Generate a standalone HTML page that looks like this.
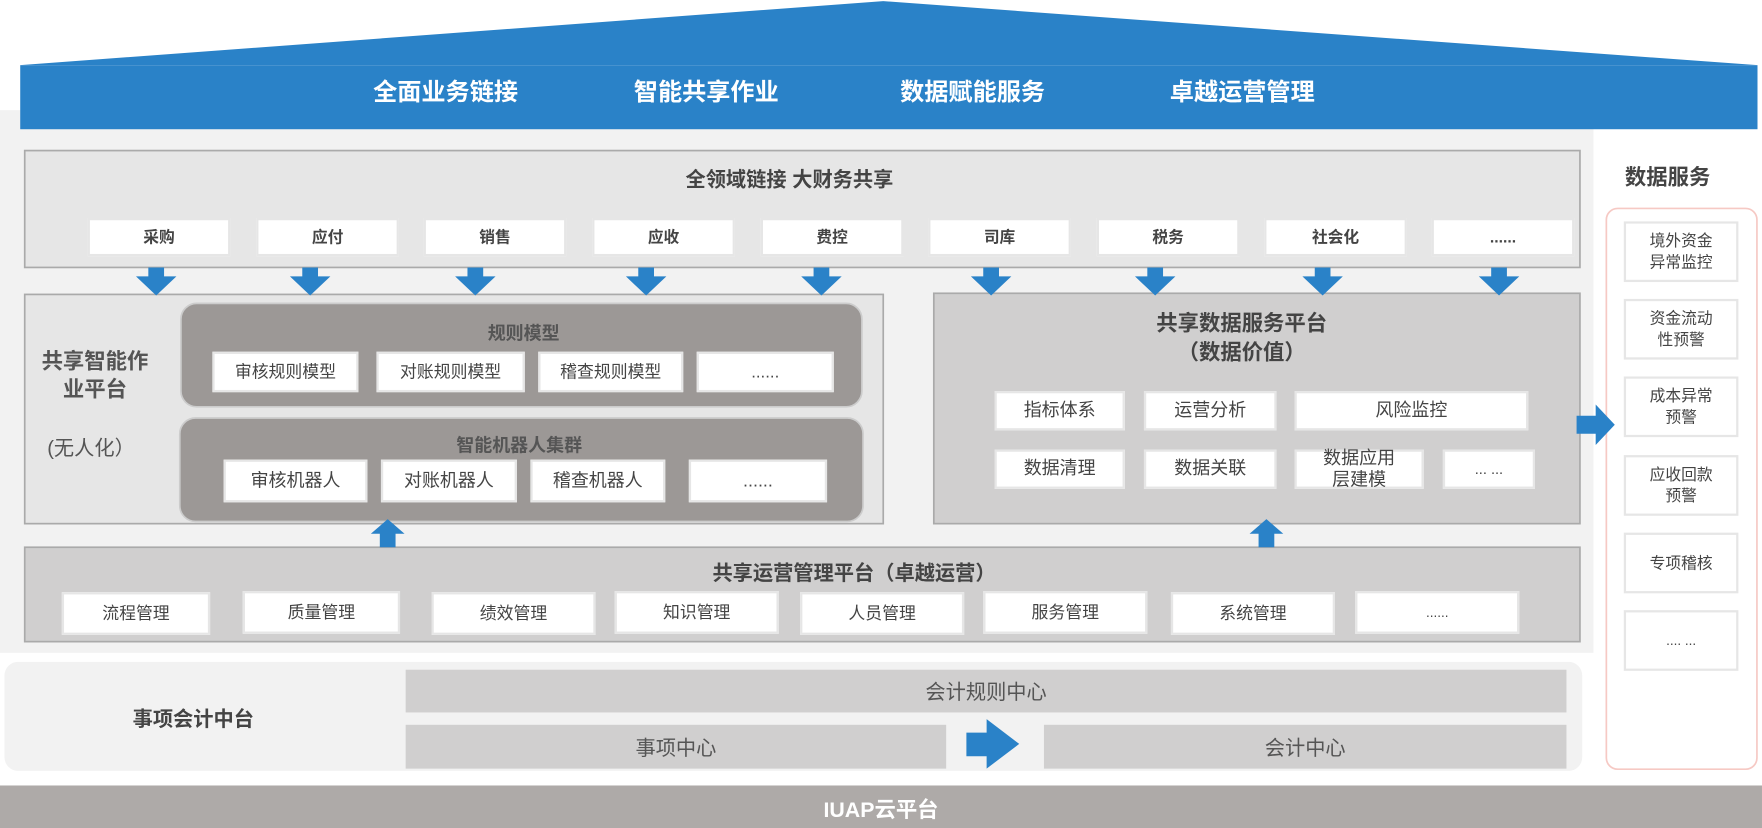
<!DOCTYPE html>
<html><head><meta charset="utf-8"><style>
html,body{margin:0;padding:0;background:#fff;width:1762px;height:828px;overflow:hidden}
#s{position:absolute;left:0;top:0;width:1568px;height:737px;transform:scale(1.12372);transform-origin:0 0;font-family:"Liberation Sans","Noto Sans CJK SC",sans-serif;color:#444}
.a{position:absolute;box-sizing:border-box}
.w{position:absolute;box-sizing:border-box;background:#fff;border:2px solid #e6e6e6;display:flex;align-items:center;justify-content:center;font-size:15px;color:#444;text-align:center;line-height:19px}
.t{position:absolute;font-weight:bold;color:#555;white-space:nowrap}
</style></head><body><div id="s">
<svg class="a" style="left:0;top:0" width="1568" height="737">
<polygon points="18,58 786,1 1564,58" fill="#2a82c8"/>
<rect x="0" y="98" width="1418" height="483" fill="#f2f2f2"/>
<rect x="18" y="58" width="1546" height="57" fill="#2a82c8"/>
<rect x="1429.5" y="185.5" width="134" height="499" rx="10" fill="#fff" stroke="#f6c9c4" stroke-width="1.5"/>
<rect x="22" y="134" width="1384" height="104" fill="#e6e6e6" stroke="#aaa" stroke-width="1.5"/>
<rect x="22" y="262" width="764" height="204" fill="#e6e6e6" stroke="#aaa" stroke-width="1.5"/>
<rect x="161" y="270" width="606" height="92" rx="14" fill="#9c9896" stroke="#ccc" stroke-width="1.5"/>
<rect x="160" y="372" width="608" height="92" rx="14" fill="#9c9896" stroke="#ccc" stroke-width="1.5"/>
<rect x="831" y="261" width="575" height="205" fill="#d0cfcf" stroke="#aaa" stroke-width="1.5"/>
<rect x="22" y="487" width="1384" height="84" fill="#d0cfcf" stroke="#aaa" stroke-width="1.5"/>
<rect x="4" y="589" width="1404" height="97" rx="12" fill="#f2f2f2"/>
<rect x="361" y="596" width="1033" height="38" fill="#d0cfcf"/>
<rect x="361" y="645" width="481" height="39" fill="#d0cfcf"/>
<rect x="929" y="645" width="465" height="39" fill="#d0cfcf"/>
<rect x="0" y="699" width="1568" height="38" fill="#aeaaa8"/>
<g fill="#2a82c8">
<polygon points="860,652 878,652 878,640 907,662 878,684 878,673 860,673"/>
<polygon points="1403,370 1420,370 1420,360 1437,378 1420,396 1420,386 1403,386"/>
<polygon points="338,487 352,487 352,475 360,475 345,462 330,475 338,475"/>
<polygon points="1120,487 1134,487 1134,475 1142,475 1127,462 1112,475 1120,475"/>
</g>
<g fill="#2a82c8">
<polygon points="132,238 146,238 146,246 157,246 139,263 121,246 132,246"/>
<polygon points="269,238 283,238 283,246 294,246 276,263 258,246 269,246"/>
<polygon points="416,238 430,238 430,246 441,246 423,263 405,246 416,246"/>
<polygon points="568,238 582,238 582,246 593,246 575,263 557,246 568,246"/>
<polygon points="724,238 738,238 738,246 749,246 731,263 713,246 724,246"/>
<polygon points="875,238 889,238 889,246 900,246 882,263 864,246 875,246"/>
<polygon points="1021,238 1035,238 1035,246 1046,246 1028,263 1010,246 1021,246"/>
<polygon points="1170,238 1184,238 1184,246 1195,246 1177,263 1159,246 1170,246"/>
<polygon points="1327,238 1341,238 1341,246 1352,246 1334,263 1316,246 1327,246"/>
</g>
</svg>
<div class="t" style="left:332px;top:65px;font-size:21.5px;color:#fff">全面业务链接</div>
<div class="t" style="left:564px;top:65px;font-size:21.5px;color:#fff">智能共享作业</div>
<div class="t" style="left:801px;top:65px;font-size:21.5px;color:#fff">数据赋能服务</div>
<div class="t" style="left:1041px;top:65px;font-size:21.5px;color:#fff">卓越运营管理</div>
<div class="t" style="left:1446px;top:143px;font-size:19px;color:#444">数据服务</div>
<div class="t" style="left:610px;top:146px;font-size:18px;color:#444">全领域链接 大财务共享</div>
<div class="w" style="left:78px;top:194px;width:127px;height:34px;font-weight:bold;font-size:14px">采购</div>
<div class="w" style="left:228px;top:194px;width:127px;height:34px;font-weight:bold;font-size:14px">应付</div>
<div class="w" style="left:377px;top:194px;width:127px;height:34px;font-weight:bold;font-size:14px">销售</div>
<div class="w" style="left:527px;top:194px;width:127px;height:34px;font-weight:bold;font-size:14px">应收</div>
<div class="w" style="left:677px;top:194px;width:127px;height:34px;font-weight:bold;font-size:14px">费控</div>
<div class="w" style="left:826px;top:194px;width:127px;height:34px;font-weight:bold;font-size:14px">司库</div>
<div class="w" style="left:976px;top:194px;width:127px;height:34px;font-weight:bold;font-size:14px">税务</div>
<div class="w" style="left:1125px;top:194px;width:127px;height:34px;font-weight:bold;font-size:14px">社会化</div>
<div class="w" style="left:1274px;top:194px;width:127px;height:34px;font-weight:bold;font-size:14px">......</div>
<div class="t" style="left:37px;top:310px;font-size:19px;line-height:25px;text-align:center">共享智能作<br>业平台</div>
<div class="a" style="left:42px;top:385px;font-size:18px;color:#555">(无人化）</div>
<div class="t" style="left:434px;top:283px;font-size:16px;color:#555">规则模型</div>
<div class="w" style="left:189px;top:313px;width:130px;height:36px">审核规则模型</div>
<div class="w" style="left:335px;top:313px;width:132px;height:36px">对账规则模型</div>
<div class="w" style="left:479px;top:313px;width:129px;height:36px">稽查规则模型</div>
<div class="w" style="left:620px;top:313px;width:122px;height:36px">......</div>
<div class="t" style="left:406px;top:383px;font-size:16px;color:#555">智能机器人集群</div>
<div class="w" style="left:199px;top:409px;width:128px;height:38px;font-size:16px">审核机器人</div>
<div class="w" style="left:339px;top:409px;width:121px;height:38px;font-size:16px">对账机器人</div>
<div class="w" style="left:472px;top:409px;width:120px;height:38px;font-size:16px">稽查机器人</div>
<div class="w" style="left:613px;top:409px;width:123px;height:38px;font-size:16px">......</div>
<div class="t" style="left:1029px;top:276px;font-size:19px;line-height:26px;text-align:center;color:#444">共享数据服务平台<br>（数据价值）</div>
<div class="w" style="left:885px;top:348px;width:116px;height:35px;font-size:16px">指标体系</div>
<div class="w" style="left:1018px;top:348px;width:118px;height:35px;font-size:16px">运营分析</div>
<div class="w" style="left:1152px;top:348px;width:208px;height:35px;font-size:16px">风险监控</div>
<div class="w" style="left:885px;top:400px;width:116px;height:35px;font-size:16px">数据清理</div>
<div class="w" style="left:1018px;top:400px;width:118px;height:35px;font-size:16px">数据关联</div>
<div class="w" style="left:1152px;top:400px;width:115px;height:35px;font-size:16px">数据应用<br>层建模</div>
<div class="w" style="left:1284px;top:400px;width:82px;height:35px;font-size:13px">... ...</div>
<div class="t" style="left:634px;top:496px;font-size:18px;color:#444">共享运营管理平台（卓越运营）</div>
<div class="w" style="left:55px;top:527px;width:132px;height:38px">流程管理</div>
<div class="w" style="left:216px;top:526px;width:140px;height:38px">质量管理</div>
<div class="w" style="left:384px;top:527px;width:146px;height:38px">绩效管理</div>
<div class="w" style="left:547px;top:526px;width:146px;height:38px">知识管理</div>
<div class="w" style="left:712px;top:527px;width:146px;height:38px">人员管理</div>
<div class="w" style="left:875px;top:526px;width:146px;height:38px">服务管理</div>
<div class="w" style="left:1042px;top:527px;width:146px;height:38px">系统管理</div>
<div class="w" style="left:1206px;top:526px;width:146px;height:38px;font-size:12px">......</div>
<div class="w" style="left:1445px;top:197px;width:102px;height:54px;font-size:14px">境外资金<br>异常监控</div>
<div class="w" style="left:1445px;top:266px;width:102px;height:54px;font-size:14px">资金流动<br>性预警</div>
<div class="w" style="left:1445px;top:335px;width:102px;height:54px;font-size:14px">成本异常<br>预警</div>
<div class="w" style="left:1445px;top:405px;width:102px;height:54px;font-size:14px">应收回款<br>预警</div>
<div class="w" style="left:1445px;top:474px;width:102px;height:54px;font-size:14px">专项稽核</div>
<div class="w" style="left:1445px;top:543px;width:102px;height:54px;font-size:12px">.... ...</div>
<div class="t" style="left:118px;top:626px;font-size:18px;color:#444">事项会计中台</div>
<div class="a" style="left:361px;top:602px;width:1033px;text-align:center;font-size:18px;color:#555">会计规则中心</div>
<div class="a" style="left:361px;top:652px;width:481px;text-align:center;font-size:18px;color:#555">事项中心</div>
<div class="a" style="left:929px;top:652px;width:465px;text-align:center;font-size:18px;color:#555">会计中心</div>
<div class="t" style="left:0;top:706px;width:1568px;text-align:center;font-size:19px;color:#fff">IUAP云平台</div>
</div></body></html>
